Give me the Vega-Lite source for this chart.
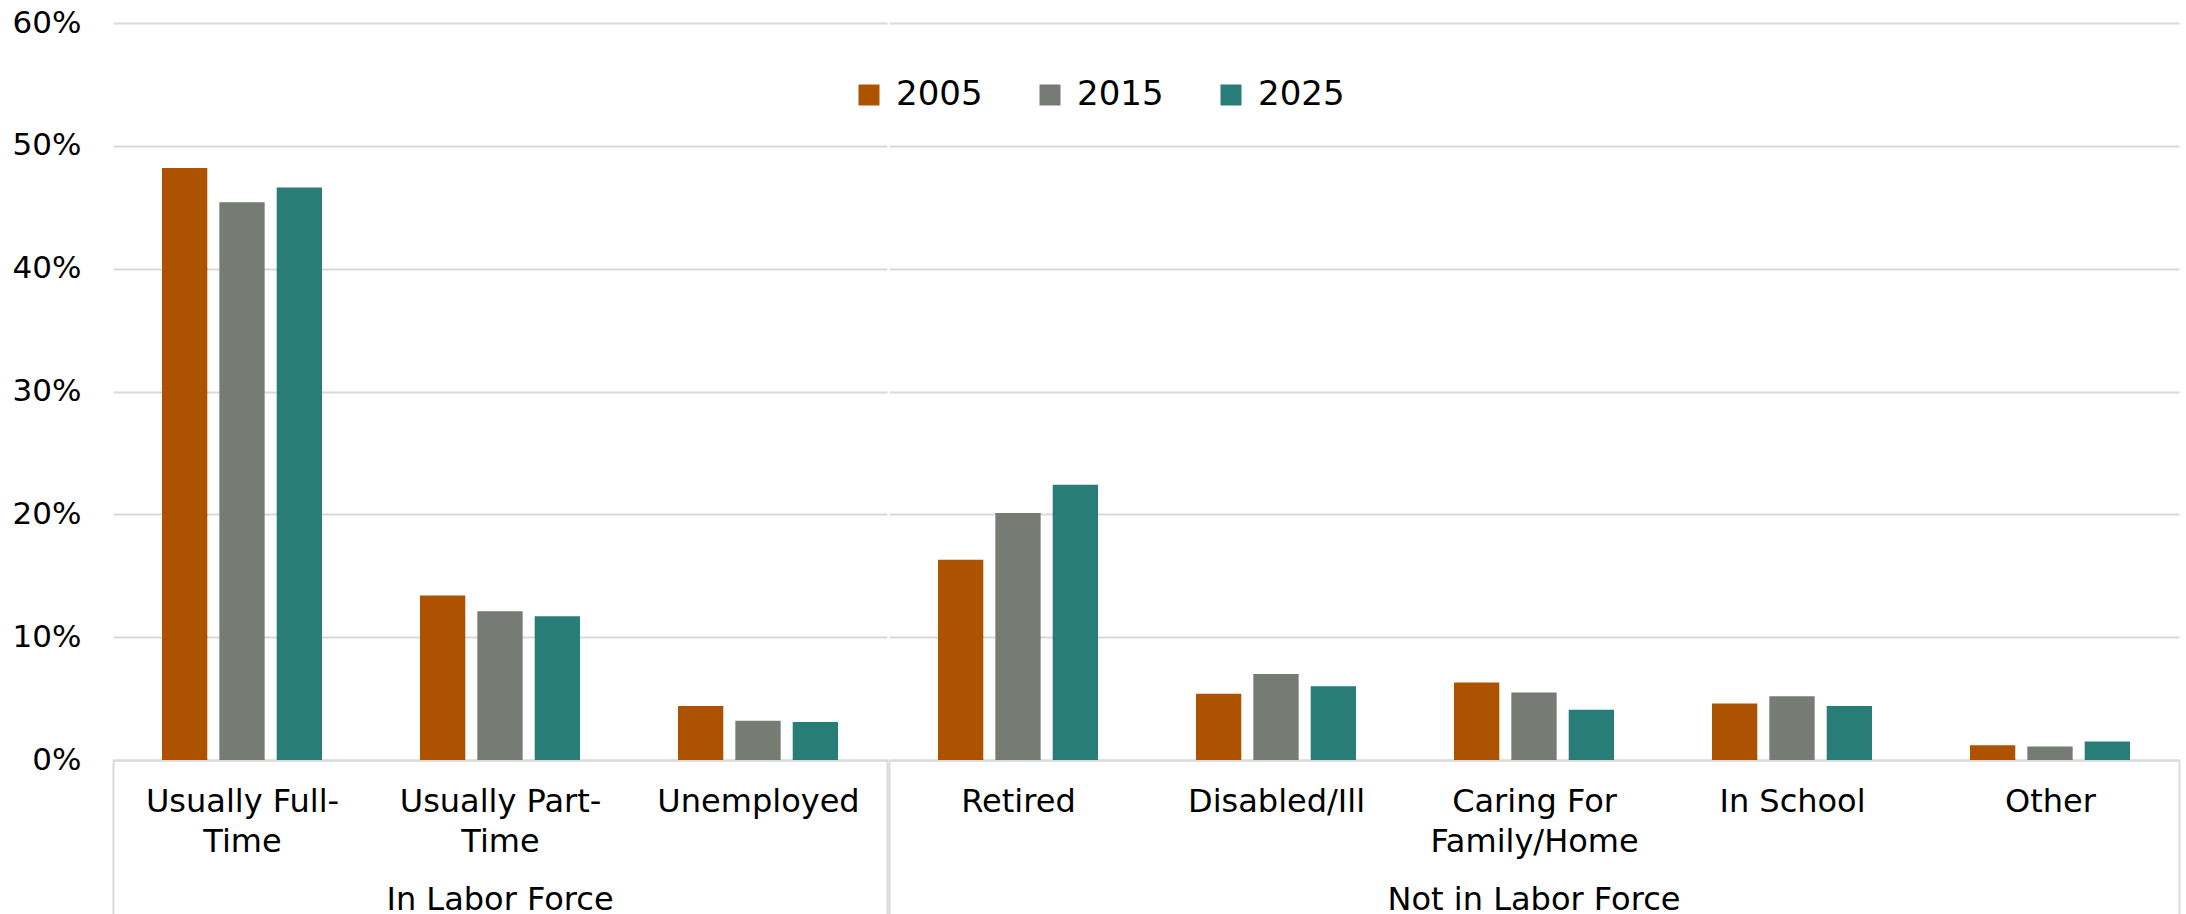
{
  "$schema": "https://vega.github.io/schema/vega-lite/v6.json",
  "padding": {"left": 12, "top": 7, "right": 9, "bottom": 0},
  "background": "white",
  "data": {"values": [
    {"group": "In Labor Force", "category": "Usually Full-Time", "year": "2005", "value": 48.2},
    {"group": "In Labor Force", "category": "Usually Full-Time", "year": "2015", "value": 45.4},
    {"group": "In Labor Force", "category": "Usually Full-Time", "year": "2025", "value": 46.6},
    {"group": "In Labor Force", "category": "Usually Part-Time", "year": "2005", "value": 13.4},
    {"group": "In Labor Force", "category": "Usually Part-Time", "year": "2015", "value": 12.1},
    {"group": "In Labor Force", "category": "Usually Part-Time", "year": "2025", "value": 11.7},
    {"group": "In Labor Force", "category": "Unemployed", "year": "2005", "value": 4.4},
    {"group": "In Labor Force", "category": "Unemployed", "year": "2015", "value": 3.2},
    {"group": "In Labor Force", "category": "Unemployed", "year": "2025", "value": 3.1},
    {"group": "Not in Labor Force", "category": "Retired", "year": "2005", "value": 16.3},
    {"group": "Not in Labor Force", "category": "Retired", "year": "2015", "value": 20.1},
    {"group": "Not in Labor Force", "category": "Retired", "year": "2025", "value": 22.4},
    {"group": "Not in Labor Force", "category": "Disabled/Ill", "year": "2005", "value": 5.4},
    {"group": "Not in Labor Force", "category": "Disabled/Ill", "year": "2015", "value": 7.0},
    {"group": "Not in Labor Force", "category": "Disabled/Ill", "year": "2025", "value": 6.0},
    {"group": "Not in Labor Force", "category": "Caring For Family/Home", "year": "2005", "value": 6.3},
    {"group": "Not in Labor Force", "category": "Caring For Family/Home", "year": "2015", "value": 5.5},
    {"group": "Not in Labor Force", "category": "Caring For Family/Home", "year": "2025", "value": 4.1},
    {"group": "Not in Labor Force", "category": "In School", "year": "2005", "value": 4.6},
    {"group": "Not in Labor Force", "category": "In School", "year": "2015", "value": 5.2},
    {"group": "Not in Labor Force", "category": "In School", "year": "2025", "value": 4.4},
    {"group": "Not in Labor Force", "category": "Other", "year": "2005", "value": 1.2},
    {"group": "Not in Labor Force", "category": "Other", "year": "2015", "value": 1.1},
    {"group": "Not in Labor Force", "category": "Other", "year": "2025", "value": 1.5}
  ]},
  "facet": {
    "column": {
      "field": "group", "type": "nominal", "title": null,
      "sort": ["In Labor Force", "Not in Labor Force"],
      "header": {"labelOrient": "bottom", "labelFont": "DejaVu Sans", "labelFontSize": 32, "labelColor": "#000000", "labelPadding": -36}
    }
  },
  "spacing": 0,
  "resolve": {"scale": {"x": "independent", "xOffset": "independent"}},
  "spec": {
    "width": {"step": 258, "for": "position"},
    "height": 737,
    "mark": {"type": "bar"},
    "encoding": {
      "x": {
        "field": "category", "type": "nominal", "sort": null,
        "scale": {"paddingInner": 0, "paddingOuter": 0},
        "axis": {
          "title": null, "labelAngle": 0, "labelFont": "DejaVu Sans", "labelFontSize": 32, "labelColor": "#000000",
          "labelLineHeight": 40, "labelLimit": 0, "labelOverlap": false,
          "labelExpr": "datum.label == 'Usually Full-Time' ? ['Usually Full-', 'Time'] : datum.label == 'Usually Part-Time' ? ['Usually Part-', 'Time'] : datum.label == 'Caring For Family/Home' ? ['Caring For', 'Family/Home'] : datum.label",
          "domain": true, "domainColor": "#d9d9d9", "domainWidth": 2,
          "tickBand": "extent", "tickSize": 160, "tickWidth": 2,
          "tickColor": {"condition": {"test": "datum.index == 1 || datum.index == -1", "value": "#d9d9d9"}, "value": "transparent"},
          "labelPadding": -134, "grid": false
        }
      },
      "xOffset": {"field": "year", "type": "nominal", "scale": {"paddingInner": 0.21, "paddingOuter": 0.854}},
      "y": {
        "field": "value", "type": "quantitative",
        "scale": {"domain": [0, 60]},
        "axis": {
          "title": null, "values": [0, 10, 20, 30, 40, 50, 60], "labelExpr": "datum.value + '%'",
          "domain": false, "ticks": false, "labelFont": "DejaVu Sans", "labelFontSize": 31, "labelColor": "#000000",
          "labelPadding": 31, "gridColor": "#d9d9d9", "gridWidth": 2
        }
      },
      "color": {
        "field": "year", "type": "nominal",
        "scale": {"domain": ["2005", "2015", "2025"], "range": ["#AD5300", "#767C73", "#287D78"]},
        "legend": {
          "orient": "none", "legendX": 739, "legendY": 55, "direction": "horizontal", "title": null,
          "symbolType": "square", "symbolSize": 441, "symbolStrokeWidth": 0, "symbolOpacity": 1,
          "labelFont": "DejaVu Sans", "labelFontSize": 34, "labelColor": "#000000", "labelOffset": 10, "columnPadding": 50
        }
      }
    }
  },
  "config": {
    "view": {"stroke": "transparent", "strokeWidth": 0, "strokeOpacity": 0},
    "style": {"cell": {"stroke": "transparent", "strokeWidth": 0, "strokeOpacity": 0}},
    "axisY": {"domain": false}
  }
}
